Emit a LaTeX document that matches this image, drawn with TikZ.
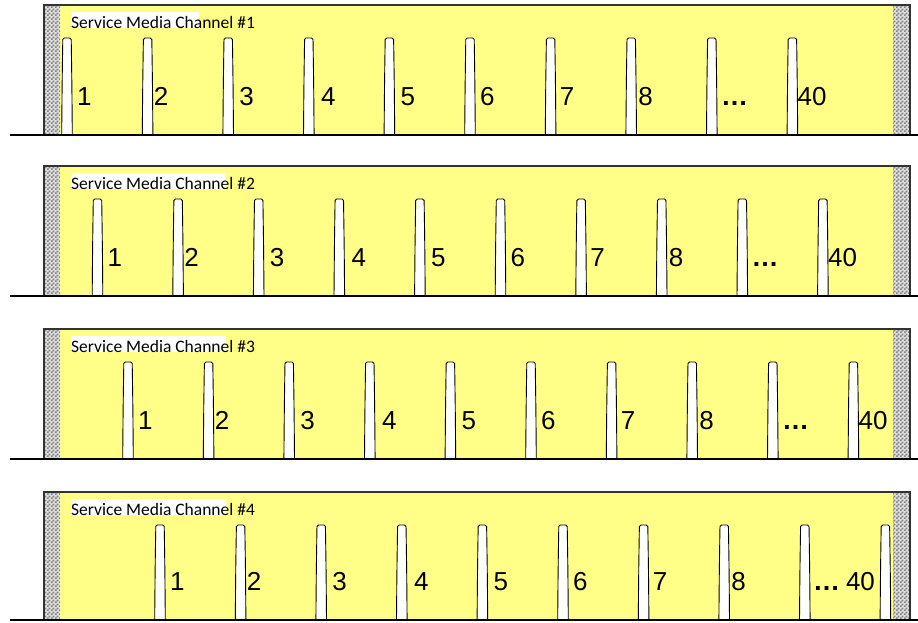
\documentclass[tikz,border=0pt]{standalone}
\usepackage{fontspec}
\setmainfont{Liberation Sans}
\newfontfamily\calib{Carlito}
\usetikzlibrary{patterns}
\definecolor{panelyellow}{HTML}{FFFF88}
\pgfdeclarepatternformonly{finecheck}{\pgfpointorigin}{\pgfqpoint{3.6pt}{3.6pt}}{\pgfqpoint{3.6pt}{3.6pt}}{%
  \pgfpathrectangle{\pgfpointorigin}{\pgfqpoint{1.8pt}{1.8pt}}%
  \pgfpathrectangle{\pgfqpoint{1.8pt}{1.8pt}}{\pgfqpoint{1.8pt}{1.8pt}}%
  \pgfusepath{fill}}
\begin{document}
\begin{tikzpicture}[x=1pt,y=-1pt,
  pulse/.style={fill=white,draw=black,line width=0.9pt,rounded corners=1.5pt},
  hatch/.style={fill=gray!25,postaction={pattern=finecheck,pattern color=black!50}},
  panelbox/.style={draw=black!80,line width=1.3pt},
  groundline/.style={line width=2.4pt,line cap=butt},
  numlabel/.style={anchor=base west,inner sep=0pt,font=\fontsize{26}{26}\selectfont},
  dotslabel/.style={anchor=base west,inner sep=0pt,font=\bfseries\fontsize{27}{27}\selectfont},
  titlelabel/.style={anchor=base west,inner sep=0pt,font=\calib\fontsize{17.5}{18}\selectfont}]
\useasboundingbox (0,0) rectangle (918,622);
\foreach \p/\yt/\yb/\off/\wbg in {1/5/135/0/199, 2/166/296/30.5/226, 3/329/459/61/226, 4/492/620/93/226} {
  \fill[panelyellow] (44,\yt) rectangle (910,\yb);
  \path[hatch] (44,\yt) rectangle (60,\yb);
  \path[hatch] (893,\yt) rectangle (910,\yb);
  \draw[panelbox] (44,\yb) -- (44,\yt) -- (910,\yt) -- (910,\yb);
  \fill[white] (71,\yt+7) rectangle (\wbg,\yt+23);
  \node[titlelabel] (t\p) at (71,\yt+23) {Service Media Channel \#\p};
  \foreach \i in {1,...,10} {
    \pgfmathsetmacro\cx{67+\off+(\i-1)*80.6}
    \draw[pulse] (\cx-5.3,\yb) .. controls (\cx-4.9,\yb-50) .. (\cx-4.2,\yt+33) -- (\cx+4.2,\yt+33) .. controls (\cx+4.9,\yb-50) .. (\cx+5.3,\yb);
  }
  \foreach \i/\lab/\o in {1/1/10, 2/2/6, 3/3/11, 4/4/12, 5/5/11, 6/6/10, 7/7/9, 8/8/7} {
    \pgfmathsetmacro\cx{67+\off+(\i-1)*80.6}
    \node[numlabel] (n\p-\i) at (\cx+\o,\yb-30) {\lab};
  }
  \pgfmathsetmacro\cxa{67+\off+8*80.6}
  \pgfmathsetmacro\cxb{67+\off+9*80.6}
  \ifnum\p<4
    \node[dotslabel] (n\p-9) at (\cxa+9,\yb-30) {…};
    \node[numlabel] (n\p-10) at (\cxb+5,\yb-30) {40};
  \else
    \node[dotslabel] (n\p-9) at (\cxa+8,\yb-30) {…};
    \node[numlabel] (n\p-10) at (\cxa+41,\yb-30) {40};
  \fi
  \draw[groundline] (10,\yb) -- (918,\yb);
}
\end{tikzpicture}
\end{document}
